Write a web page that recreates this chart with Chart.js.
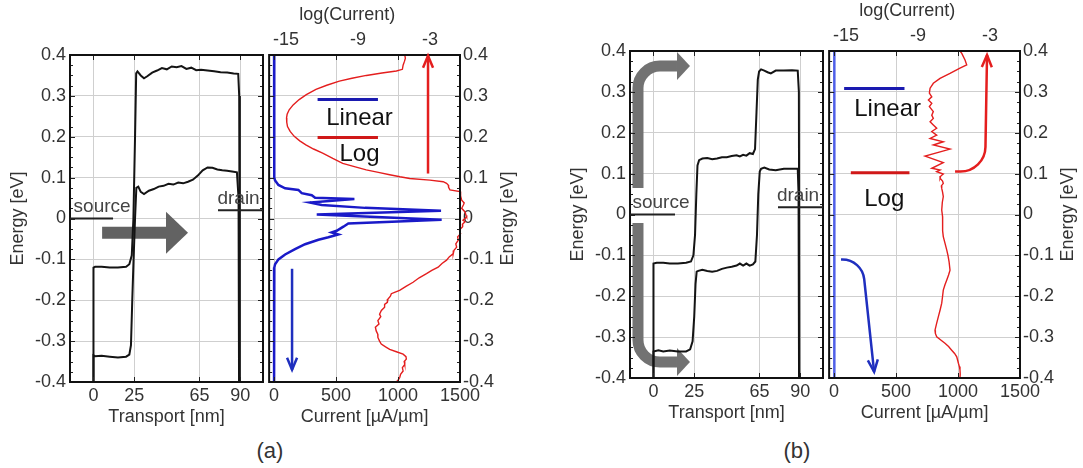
<!DOCTYPE html>
<html>
<head>
<meta charset="utf-8">
<script src="https://cdn.jsdelivr.net/npm/chart.js@4.4.1/dist/chart.umd.min.js"></script>
<style>
  body { margin: 0; background: #fff; width: 1083px; height: 468px; position: relative; overflow: hidden;
         font-family: "Liberation Sans", Arial, sans-serif; }
  canvas { position: absolute; top: 0; }
  .cap { position: absolute; top: 437px; width: 40px; text-align: center; font-size: 22px; line-height: 28px; color: #333; }
</style>
</head>
<body>
<canvas id="aLeft" width="266" height="430" style="left:0px"></canvas>
<canvas id="aRight" width="270" height="430" style="left:266px"></canvas>
<canvas id="bLeft" width="266" height="426" style="left:560px"></canvas>
<canvas id="bRight" width="257" height="426" style="left:826px"></canvas>
<div class="cap" style="left:250px">(a)</div>
<div class="cap" style="left:777px">(b)</div>
<script>
// tick values
const transportTicks = [0, 25, 65, 90];
const energyTicks = [-0.4, -0.3, -0.2, -0.1, 0, 0.1, 0.2, 0.3, 0.4];
const currentTicks = [0, 500, 1000, 1500];
const logTicks = [-15, -9, -3];

// (a) band profiles, transport [nm] vs energy [eV]
const aUpperNm = [0, 0, 1, 5, 10, 15, 20, 22, 23.5, 24.5, 25.5, 26.2, 27, 29, 31, 33, 36, 39, 42, 45, 48, 51, 54, 57, 60, 63, 66, 70, 74, 78, 82, 86, 88.8, 89.4, 89.8];
const aUpperEv = [-0.4, -0.12, -0.118, -0.118, -0.12, -0.12, -0.118, -0.112, -0.09, 0.0, 0.2, 0.355, 0.36, 0.35, 0.343, 0.348, 0.357, 0.362, 0.368, 0.365, 0.372, 0.37, 0.373, 0.366, 0.369, 0.363, 0.364, 0.362, 0.36, 0.358, 0.357, 0.355, 0.354, 0.3, -0.4];
const aLowerNm = [0, 0, 1, 5, 10, 15, 20, 22, 23, 23.8, 24.6, 25.5, 26.3, 27.5, 29, 31, 34, 37, 40, 43, 46, 49, 52, 55, 58, 61, 64, 67, 70, 73, 76, 79, 82, 85, 88, 89, 89.3];
const aLowerEv = [-0.4, -0.335, -0.337, -0.336, -0.338, -0.34, -0.338, -0.333, -0.31, -0.2, -0.1, 0.0, 0.075, 0.078, 0.065, 0.06, 0.068, 0.072, 0.078, 0.08, 0.085, 0.083, 0.088, 0.086, 0.09, 0.095, 0.105, 0.118, 0.125, 0.124, 0.12, 0.118, 0.117, 0.115, 0.113, 0.05, -0.4];

// (b) band profiles
const bUpperNm = [0, 0, 2, 6, 10, 15, 20, 23, 24.5, 25.5, 26.3, 27, 28, 30, 33, 36, 39, 42, 45, 48, 51, 53, 55, 57, 59, 61, 62.3, 63.2, 64, 64.8, 66, 68, 70, 72, 75, 80, 85, 88.5, 89.2, 89.5];
const bUpperEv = [-0.4, -0.12, -0.118, -0.118, -0.12, -0.12, -0.118, -0.115, -0.1, -0.05, 0.05, 0.12, 0.133, 0.137, 0.138, 0.135, 0.137, 0.14, 0.14, 0.143, 0.145, 0.142, 0.146, 0.144, 0.15, 0.148, 0.16, 0.25, 0.33, 0.35, 0.355, 0.352, 0.348, 0.345, 0.352, 0.352, 0.353, 0.352, 0.3, -0.4];
const bLowerNm = [0, 0, 3, 6, 10, 15, 20, 22.5, 24, 25, 25.8, 26.5, 27.5, 30, 33, 36, 39, 42, 45, 48, 51, 53, 55, 57, 59, 61, 62.5, 63.5, 64.3, 65.2, 66, 68, 71, 75, 80, 85, 88.5, 89, 89.3];
const bLowerEv = [-0.4, -0.335, -0.332, -0.335, -0.333, -0.335, -0.335, -0.33, -0.31, -0.25, -0.17, -0.14, -0.138, -0.135, -0.138, -0.14, -0.138, -0.133, -0.13, -0.128, -0.125, -0.12, -0.125, -0.12, -0.125, -0.122, -0.115, -0.05, 0.05, 0.105, 0.112, 0.115, 0.11, 0.108, 0.112, 0.112, 0.112, 0.05, -0.4];

// (a) current spectrum: linear [uA/um] and log
const aLinearEv = [0.4, 0.105, 0.1, 0.093, 0.082, 0.074, 0.07, 0.062, 0.057, 0.051, 0.048, 0.039, 0.033, 0.026, 0.019, 0.01, -0.003, -0.012, -0.02, -0.03, -0.034, -0.039, -0.046, -0.052, -0.063, -0.075, -0.088, -0.1, -0.112, -0.12, -0.125, -0.4];
const aLinearI = [0, 0, 3, 8, 35, 89, 196, 223, 304, 331, 648, 290, 384, 734, 1347, 344, 1352, 599, 559, 505, 465, 519, 438, 358, 250, 169, 89, 35, 8, 2, 0, 0];
const aLogEv = [0.4, 0.392, 0.385, 0.375, 0.365, 0.361, 0.356, 0.35, 0.343, 0.336, 0.326, 0.316, 0.303, 0.291, 0.278, 0.266, 0.255, 0.246, 0.235, 0.225, 0.213, 0.201, 0.19, 0.18, 0.17, 0.16, 0.147, 0.135, 0.127, 0.119, 0.113, 0.107, 0.102, 0.098, 0.094, 0.09, 0.086, 0.082, 0.076, 0.07, 0.066, 0.055, 0.045, 0.038, 0.033, 0.025, 0.016, 0.008, 0.004, -0.004, -0.008, -0.014, -0.02, -0.028, -0.037, -0.045, -0.053, -0.062, -0.07, -0.078, -0.086, -0.094, -0.102, -0.11, -0.119, -0.127, -0.135, -0.145, -0.156, -0.166, -0.176, -0.18, -0.184, -0.19, -0.197, -0.205, -0.21, -0.217, -0.225, -0.234, -0.24, -0.25, -0.258, -0.266, -0.275, -0.283, -0.291, -0.3, -0.307, -0.314, -0.32, -0.326, -0.332, -0.338, -0.344, -0.35, -0.357, -0.365, -0.373, -0.381, -0.389, -0.395, -0.4];
const aLogVal = [-5.1, -5.05, -5.12, -5.24, -5.3, -5.8, -7.0, -8.3, -9.5, -10.55, -11.6, -12.5, -13.3, -13.9, -14.4, -14.73, -14.9, -14.95, -14.93, -14.87, -14.65, -14.31, -13.85, -13.34, -12.7, -11.94, -11.1, -10.27, -9.3, -8.31, -7.3, -6.36, -5.5, -4.69, -3.01, -1.9, -1.62, -1.48, -1.45, -1.34, -0.5, -0.45, -0.36, -0.15, -0.22, -0.36, -0.08, 0.0, 0.06, -0.25, -0.08, -0.3, -0.28, -0.55, -0.45, -0.7, -0.64, -0.85, -0.78, -1.0, -1.06, -1.4, -1.62, -2.0, -2.32, -2.85, -3.29, -3.9, -4.41, -5.0, -5.53, -5.9, -6.22, -6.3, -6.5, -6.55, -6.78, -6.78, -7.05, -7.2, -7.1, -7.34, -7.25, -7.55, -7.48, -7.35, -7.34, -7.2, -7.06, -6.7, -6.36, -5.8, -5.24, -5.0, -4.97, -5.15, -5.1, -5.3, -5.24, -5.45, -5.52, -5.65, -5.8];

// (b) current spectrum
const bLinearEv = [0.4, 0.2, 0, -0.2, -0.4];
const bLinearI = [2, 2, 2, 2, 2];
const bLogEv = [0.4, 0.394, 0.378, 0.366, 0.358, 0.345, 0.333, 0.321, 0.309, 0.297, 0.288, 0.28, 0.272, 0.264, 0.252, 0.243, 0.235, 0.227, 0.219, 0.211, 0.203, 0.194, 0.186, 0.178, 0.17, 0.16, 0.143, 0.127, 0.113, 0.109, 0.105, 0.099, 0.094, 0.089, 0.082, 0.076, 0.07, 0.064, 0.055, 0.044, 0.03, 0.011, -0.005, -0.022, -0.04, -0.054, -0.07, -0.087, -0.1, -0.115, -0.136, -0.148, -0.16, -0.172, -0.185, -0.2, -0.217, -0.233, -0.25, -0.267, -0.283, -0.291, -0.299, -0.307, -0.315, -0.323, -0.332, -0.34, -0.348, -0.356, -0.364, -0.372, -0.38, -0.39, -0.4];
const bLogVal = [-5.5, -5.35, -5.08, -4.94, -5.5, -6.33, -7.16, -7.72, -7.99, -8.05, -7.85, -8.13, -7.85, -8.05, -7.72, -7.85, -7.72, -7.99, -7.72, -7.44, -7.85, -7.44, -7.99, -6.89, -7.72, -6.33, -8.41, -6.89, -7.85, -7.16, -7.44, -6.89, -7.1, -7.16, -6.95, -6.89, -7.05, -7.02, -6.95, -6.89, -6.97, -7.02, -6.95, -6.97, -6.92, -6.89, -6.75, -6.6, -6.5, -6.41, -6.33, -6.45, -6.6, -6.75, -6.89, -6.95, -7.02, -7.15, -7.3, -7.45, -7.58, -7.55, -7.44, -7.1, -6.75, -6.45, -6.19, -5.95, -5.77, -5.7, -5.63, -5.55, -5.5, -5.48, -5.5];

// annotation anchors (axis units)
const aBigArrow = [[5.3, -0.035], [58, -0.035]];
const bArrowUp = [[-9.5, 0.065], [-9.5, 0.363], [22.4, 0.363]];
const bArrowDown = [[-9.5, -0.021], [-9.5, -0.361], [22.4, -0.361]];
const aRedArrow = [[1242, 0.11], [1242, 0.398]];
const aBlueArrow = [[145, -0.123], [145, -0.37]];
const bRedArrow = [[976, 0.105], [1218, 0.105], [1234, 0.39]];
const bBlueArrow = [[56, -0.11], [226, -0.11], [323, -0.385]];
const aLegend = { lin: [351, 838, 0.291], linText: [689, 0.246], log: [351, 838, 0.198], logText: [689, 0.156] };
const bLegend = { lin: [81, 568, 0.308], linText: [432, 0.257], log: [135, 608, 0.102], logText: [405, 0.037] };
const aContacts = { source: [-14.4, 12, 0, 5.3], drain: [76.4, 104, 0.02, 89] };
const bContacts = { source: [-14.4, 13.2, 0, 4.6], drain: [76.4, 104, 0.018, 88.7] };
const logTitleAt = -9.9;

const gridColor = '#cfcfcf';
const textColor = '#333';
const blue = '#1a1ac8';
const red = '#e41e1e';
const FONT = '"Liberation Sans", Arial, sans-serif';
Chart.defaults.font.family = FONT;
Chart.defaults.font.size = 18;
Chart.defaults.color = textColor;

const zip = (xs, ys) => xs.map((x, i) => ({ x: x, y: ys[i] }));
const fmtEnergy = v => (Math.abs(v) < 1e-9 ? '0' : v.toFixed(1));
const px = (chart, xid, p) => [chart.scales[xid].getPixelForValue(p[0]), chart.scales.y.getPixelForValue(p[1])];

function drawArrow(ctx, pts, s) {
  const n = pts.length;
  const tip = pts[n - 1], prev = pts[n - 2];
  const dx = tip[0] - prev[0], dy = tip[1] - prev[1], len = Math.hypot(dx, dy);
  const ux = dx / len, uy = dy / len, nx = -uy, ny = ux;
  const base = [tip[0] - ux * s.head, tip[1] - uy * s.head];
  ctx.save();
  ctx.strokeStyle = s.color;
  ctx.fillStyle = s.color;
  ctx.lineWidth = s.width;
  ctx.lineCap = 'butt';
  ctx.beginPath();
  ctx.moveTo(pts[0][0], pts[0][1]);
  for (let i = 1; i < n - 1; i++) ctx.arcTo(pts[i][0], pts[i][1], pts[i + 1][0], pts[i + 1][1], s.r || 1);
  if (s.filled) ctx.lineTo(base[0], base[1]); else ctx.lineTo(tip[0], tip[1]);
  ctx.stroke();
  ctx.beginPath();
  ctx.moveTo(base[0] + nx * s.hw, base[1] + ny * s.hw);
  ctx.lineTo(tip[0], tip[1]);
  ctx.lineTo(base[0] - nx * s.hw, base[1] - ny * s.hw);
  if (s.filled) { ctx.closePath(); ctx.fill(); } else { ctx.lineJoin = 'miter'; ctx.stroke(); }
  ctx.restore();
}

function text(ctx, str, x, y, font, color, baseline) {
  ctx.save();
  ctx.font = font;
  ctx.fillStyle = color;
  ctx.textAlign = 'center';
  ctx.textBaseline = baseline || 'middle';
  ctx.fillText(str, x, y);
  ctx.restore();
}

function hline(ctx, x0, x1, y, color, w) {
  ctx.save();
  ctx.strokeStyle = color;
  ctx.lineWidth = w;
  ctx.beginPath();
  ctx.moveTo(x0, y);
  ctx.lineTo(x1, y);
  ctx.stroke();
  ctx.restore();
}

function drawContacts(chart, c) {
  const ctx = chart.ctx, sx = chart.scales.x, sy = chart.scales.y;
  [['source', c.source], ['drain', c.drain]].forEach(([name, d]) => {
    const y = sy.getPixelForValue(d[2]);
    hline(ctx, sx.getPixelForValue(d[0]), sx.getPixelForValue(d[1]), y, '#222', 2);
    text(ctx, name, sx.getPixelForValue(d[3]), y - 2, '19px ' + FONT, '#444', 'bottom');
  });
}

function drawLegend(chart, lg) {
  const ctx = chart.ctx, sx = chart.scales.x, sy = chart.scales.y;
  const font = '24px ' + FONT;
  hline(ctx, sx.getPixelForValue(lg.lin[0]), sx.getPixelForValue(lg.lin[1]), sy.getPixelForValue(lg.lin[2]), '#1a1ab0', 3);
  text(ctx, 'Linear', sx.getPixelForValue(lg.linText[0]), sy.getPixelForValue(lg.linText[1]), font, '#111');
  hline(ctx, sx.getPixelForValue(lg.log[0]), sx.getPixelForValue(lg.log[1]), sy.getPixelForValue(lg.log[2]), '#d01818', 3);
  text(ctx, 'Log', sx.getPixelForValue(lg.logText[0]), sy.getPixelForValue(lg.logText[1]), font, '#111');
}

function frameAndTicks(chart) {
  const { ctx, chartArea: a } = chart;
  const sx = chart.scales.x, sy = chart.scales.y;
  ctx.save();
  ctx.strokeStyle = '#222';
  ctx.lineWidth = 1;
  ctx.beginPath();
  sx.ticks.forEach(t => {
    const p = Math.round(sx.getPixelForValue(t.value)) + 0.5;
    ctx.moveTo(p, a.bottom); ctx.lineTo(p, a.bottom - 5);
    ctx.moveTo(p, a.top); ctx.lineTo(p, a.top + 5);
  });
  for (let k = 0; k <= 32; k++) {
    const p = Math.round(sy.getPixelForValue(-0.4 + k * 0.025)) + 0.5;
    const l = k % 4 === 0 ? 5 : 3;
    ctx.moveTo(a.left, p); ctx.lineTo(a.left + l, p);
    ctx.moveTo(a.right, p); ctx.lineTo(a.right - l, p);
  }
  ctx.stroke();
  ctx.lineWidth = 2;
  ctx.strokeStyle = '#111';
  ctx.strokeRect(a.left, a.top, a.width, a.height);
  ctx.restore();
}

function decor(under, over, isCurrent) {
  return {
    id: 'decor',
    beforeDatasetsDraw(chart) { if (under) under(chart); },
    afterDatasetsDraw(chart) {
      frameAndTicks(chart);
      if (over) over(chart);
      if (isCurrent) {
        const { ctx, chartArea: a } = chart;
        text(ctx, 'log(Current)', chart.scales.xLog.getPixelForValue(logTitleAt), a.top - 40, '18px ' + FONT, textColor);
        ctx.save();
        ctx.translate(a.right + 48, chart.scales.y.getPixelForValue(0));
        ctx.rotate(-Math.PI / 2);
        ctx.font = '18px ' + FONT;
        ctx.fillStyle = textColor;
        ctx.textAlign = 'center';
        ctx.textBaseline = 'middle';
        ctx.fillText('Energy [eV]', 0, 0);
        ctx.restore();
      }
    }
  };
}

const common = {
  animation: false,
  responsive: false,
  devicePixelRatio: 1,
  plugins: { legend: { display: false }, tooltip: { enabled: false } }
};

function bandChart(id, upper, lower, padTop, axisH, under, over) {
  return new Chart(document.getElementById(id), {
    type: 'scatter',
    data: {
      datasets: [
        { data: upper, showLine: true, borderColor: '#141414', borderWidth: 2, pointRadius: 0 },
        { data: lower, showLine: true, borderColor: '#141414', borderWidth: 2, pointRadius: 0 }
      ]
    },
    options: Object.assign({}, common, {
      layout: { padding: { top: padTop, right: 3, left: 0, bottom: 0 } },
      scales: {
        x: {
          type: 'linear', min: -14.4, max: 104,
          afterBuildTicks: s => { s.ticks = transportTicks.map(v => ({ value: v })); },
          afterFit: s => { s.height = axisH; },
          grid: { color: gridColor, drawTicks: false },
          border: { display: false },
          ticks: { padding: 3, autoSkip: false, maxRotation: 0, callback: v => String(v) },
          title: { display: true, text: 'Transport [nm]', padding: { top: 0, bottom: 2 } }
        },
        y: {
          type: 'linear', min: -0.4, max: 0.4,
          afterBuildTicks: s => { s.ticks = energyTicks.map(v => ({ value: v })); },
          afterFit: s => { s.width = 70; },
          grid: { color: gridColor, drawTicks: false },
          border: { display: false },
          ticks: { padding: 4, autoSkip: false, callback: fmtEnergy },
          title: { display: true, text: 'Energy [eV]', padding: { top: 7, bottom: 0 } }
        }
      }
    }),
    plugins: [decor(under, over, false)]
  });
}

function currentChart(id, linear, log, linColor, topH, axisH, rightW, over) {
  return new Chart(document.getElementById(id), {
    type: 'scatter',
    data: {
      datasets: [
        { data: linear, xAxisID: 'x', yAxisID: 'y', showLine: true, borderColor: linColor, borderWidth: 2.5, pointRadius: 0 },
        { data: log, xAxisID: 'xLog', yAxisID: 'y', showLine: true, borderColor: red, borderWidth: 1.4, pointRadius: 0, clip: 8 }
      ]
    },
    options: Object.assign({}, common, {
      layout: { padding: { top: 0, right: 0, left: 3, bottom: 0 } },
      scales: {
        x: {
          type: 'linear', position: 'bottom', min: -40, max: 1500,
          afterBuildTicks: s => { s.ticks = currentTicks.map(v => ({ value: v })); },
          afterFit: s => { s.height = axisH; },
          grid: { color: gridColor, drawTicks: false },
          border: { display: false },
          ticks: { padding: 3, autoSkip: false, maxRotation: 0, callback: v => String(v) },
          title: { display: true, text: 'Current [\u00b5A/\u00b5m]', padding: { top: 0, bottom: 2 } }
        },
        xLog: {
          type: 'linear', position: 'top', min: -16.4, max: -0.5,
          afterBuildTicks: s => { s.ticks = logTicks.map(v => ({ value: v })); },
          afterFit: s => { s.height = topH; },
          grid: { drawOnChartArea: false, drawTicks: false },
          border: { display: false },
          ticks: { padding: 4, autoSkip: false, maxRotation: 0, callback: v => String(v) }
        },
        y: {
          type: 'linear', position: 'right', min: -0.4, max: 0.4,
          afterBuildTicks: s => { s.ticks = energyTicks.map(v => ({ value: v })); },
          afterFit: s => { s.width = rightW; },
          grid: { color: gridColor, drawTicks: false },
          border: { display: false },
          ticks: { padding: 3, autoSkip: false, callback: fmtEnergy }
        }
      }
    }),
    plugins: [decor(null, over, true)]
  });
}

// (a) left: band profile
bandChart('aLeft', zip(aUpperNm, aUpperEv), zip(aLowerNm, aLowerEv), 55, 48,
  chart => drawArrow(chart.ctx, aBigArrow.map(p => px(chart, 'x', p)), { color: '#626262', width: 12, head: 22, hw: 21, filled: true }),
  chart => drawContacts(chart, aContacts));

// (a) right: current spectrum
currentChart('aRight', zip(aLinearI, aLinearEv), zip(aLogVal, aLogEv), blue, 55, 48, 76, chart => {
  drawLegend(chart, aLegend);
  drawArrow(chart.ctx, aRedArrow.map(p => px(chart, 'x', p)), { color: red, width: 2.5, head: 12, hw: 5 });
  drawArrow(chart.ctx, aBlueArrow.map(p => px(chart, 'x', p)), { color: '#1f2fbf', width: 2.5, head: 12, hw: 5 });
});

// (b) left: band profile
bandChart('bLeft', zip(bUpperNm, bUpperEv), zip(bLowerNm, bLowerEv), 51, 48,
  chart => {
    const st = { color: '#727272', width: 11, head: 13, hw: 14, r: 22, filled: true };
    drawArrow(chart.ctx, bArrowUp.map(p => px(chart, 'x', p)), st);
    drawArrow(chart.ctx, bArrowDown.map(p => px(chart, 'x', p)), st);
  },
  chart => drawContacts(chart, bContacts));

// (b) right: current spectrum
currentChart('bRight', zip(bLinearI, bLinearEv), zip(bLogVal, bLogEv), '#4f5fe8', 51, 48, 63, chart => {
  drawLegend(chart, bLegend);
  drawArrow(chart.ctx, bRedArrow.map(p => px(chart, 'x', p)), { color: red, width: 2.5, head: 12, hw: 5, r: 25 });
  drawArrow(chart.ctx, bBlueArrow.map(p => px(chart, 'x', p)), { color: '#1f2fbf', width: 2.5, head: 12, hw: 5, r: 22 });
});
</script>
</body>
</html>
